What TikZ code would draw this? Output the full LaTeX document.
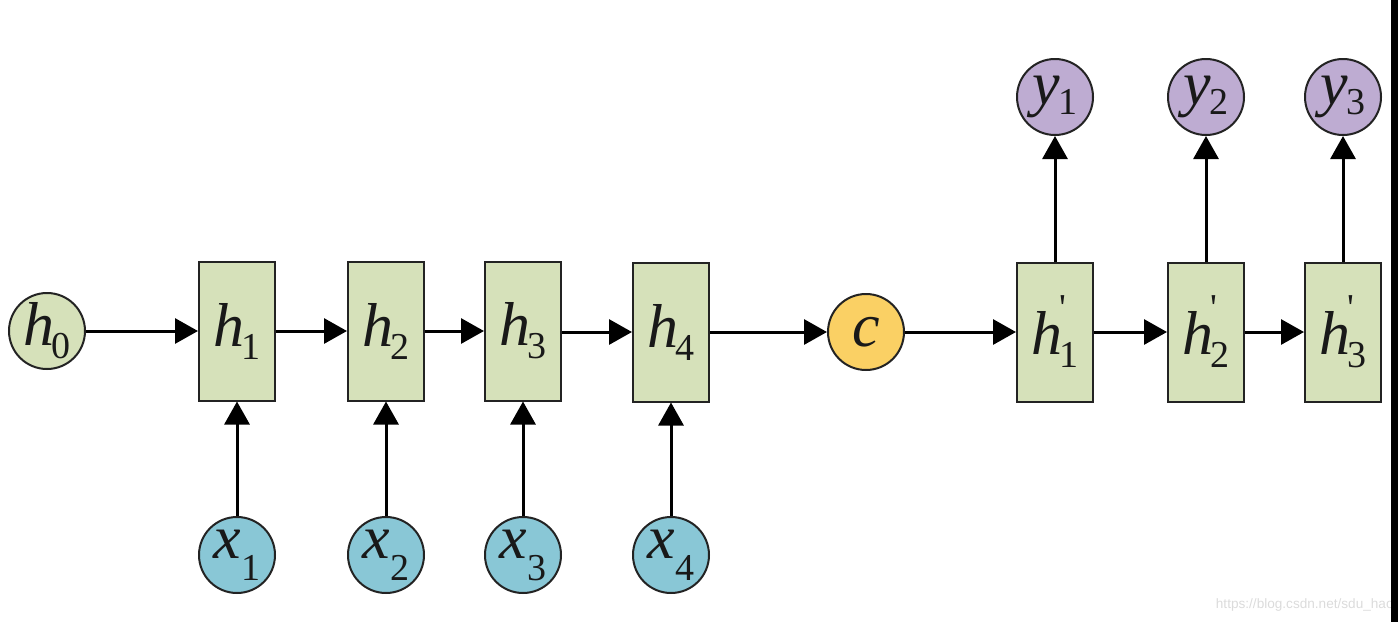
\documentclass[tikz,border=0pt]{standalone}
\usepackage{fontspec}
\setmainfont{Liberation Serif}
\setsansfont{Liberation Sans}
\newfontfamily\primef{Liberation Serif}[Mapping=]
\usetikzlibrary{arrows.meta}
\definecolor{boxg}{RGB}{214,225,186}
\definecolor{xblue}{RGB}{137,199,214}
\definecolor{cyel}{RGB}{250,208,100}
\definecolor{ypur}{RGB}{190,172,210}
\definecolor{edgec}{RGB}{35,35,35}
\newcommand\mainf{\fontsize{31}{31}\selectfont\itshape}
\newcommand\subf{\fontsize{19}{19}\selectfont\upshape}
\newcommand\hsub[1]{{\mainf h}\kern-1.5pt\raisebox{-6.5pt}{\subf #1}}
\newcommand\hpsub[1]{{\mainf h}\kern-1.5pt\rlap{\raisebox{17pt}{\subf\textquotesingle}}\raisebox{-6.5pt}{\subf #1}}
\newcommand\xsub[1]{{\mainf x}\kern0.5pt\raisebox{-11pt}{\subf #1}}
\newcommand\ysub[1]{{\mainf y}\kern-0.5pt\raisebox{-5pt}{\subf #1}}
\begin{document}
\begin{tikzpicture}[x=0.5pt,y=-0.5pt,
  circ/.style={circle, draw=edgec, line width=1pt, minimum size=38pt, inner sep=0pt, text=black!90},
  cell/.style={rectangle, draw=edgec, line width=1pt, fill=boxg, minimum width=38pt, minimum height=69.5pt, inner sep=0pt, text=black!90},
  arr/.style={-{Triangle[length=11.5pt,width=12.5pt]}, line width=1.5pt, black}]
\useasboundingbox (0,0) rectangle (1398,622);
% nodes
\node[circ, fill=boxg] (h0) at (47,331) {\hsub{0}};
\node[cell] (h1) at (237,331) {\hsub{1}};
\node[cell] (h2) at (386,331) {\hsub{2}};
\node[cell] (h3) at (523,331) {\hsub{3}};
\node[cell] (h4) at (671,332) {\hsub{4}};
\node[circ, fill=cyel] (c) at (866,332) {\mainf c};
\node[cell] (hp1) at (1055,332) {\hpsub{1}};
\node[cell] (hp2) at (1206,332) {\hpsub{2}};
\node[cell] (hp3) at (1343,332) {\hpsub{3}};
\node[circ, fill=xblue] (x1) at (237,555) {\xsub{1}};
\node[circ, fill=xblue] (x2) at (386,555) {\xsub{2}};
\node[circ, fill=xblue] (x3) at (523,555) {\xsub{3}};
\node[circ, fill=xblue] (x4) at (671,555) {\xsub{4}};
\node[circ, fill=ypur] (y1) at (1055,97) {\ysub{1}};
\node[circ, fill=ypur] (y2) at (1206,97) {\ysub{2}};
\node[circ, fill=ypur] (y3) at (1343,97) {\ysub{3}};
% connectors
\draw[arr] (h0) -- (h1);
\draw[arr] (h1) -- (h2);
\draw[arr] (h2) -- (h3);
\draw[arr] (h3.east |- h4) -- (h4);
\draw[arr] (h4) -- (c);
\draw[arr] (c) -- (hp1);
\draw[arr] (hp1) -- (hp2);
\draw[arr] (hp2) -- (hp3);
\draw[arr] (x1) -- (h1);
\draw[arr] (x2) -- (h2);
\draw[arr] (x3) -- (h3);
\draw[arr] (x4) -- (h4);
\draw[arr] (hp1) -- (y1);
\draw[arr] (hp2) -- (y2);
\draw[arr] (hp3) -- (y3);
% watermark
\node[anchor=south east, text=black!14, font=\sffamily\fontsize{6.8}{6.8}\selectfont, inner sep=0pt] (wm) at (1394,612) {https://blog.csdn.net/sdu\_hao};
% right edge bar
\fill[black] (1391,0) rectangle (1398,622);
\end{tikzpicture}
\end{document}
